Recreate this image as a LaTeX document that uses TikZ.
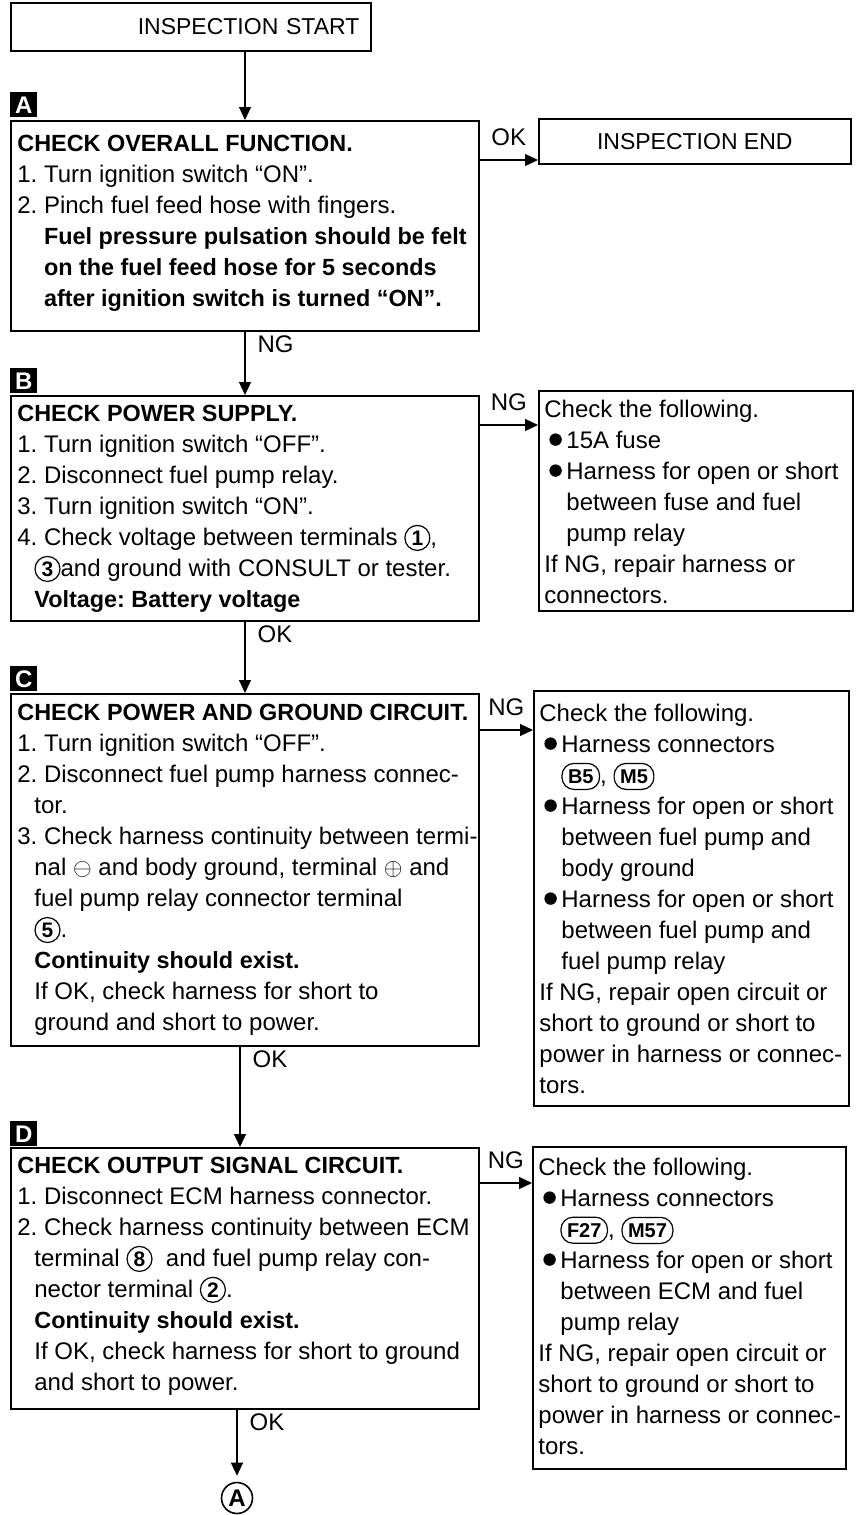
\documentclass[tikz,border=0pt]{standalone}
\usepackage{fontspec}
\setmainfont{Liberation Sans}
\usetikzlibrary{arrows.meta}
\frenchspacing

\newcommand\hb[1]{{\fontsize{11.7}{15.5}\selectfont\bfseries #1}}
\newcommand\cnum[1]{\tikz[baseline=(cn.base)]\node[circle,draw,line width=0.6pt,inner sep=0pt,minimum size=12.5pt,font=\bfseries\fontsize{10.5}{10.5}\selectfont] (cn) {#1};}
\newcommand\conn[1]{\tikz[baseline=(cc.base)]\node[draw,line width=0.6pt,rounded corners=6pt,inner xsep=3pt,inner ysep=0pt,minimum height=13pt,font=\bfseries\fontsize{10}{10}\selectfont] (cc) {#1};}
\newcommand\bul{\makebox[11pt][l]{\hspace{2.5pt}\tikz[baseline={([yshift=-4.3pt]bb.center)}]\node[circle,fill=black,inner sep=0pt,minimum size=6.2pt] (bb) {};}}

\begin{document}
\begin{tikzpicture}[x=0.5pt,y=-0.5pt,boxframe/.style={draw,line width=0.8pt,anchor=north west,inner sep=0pt},flowtxt/.style={anchor=north west,inner sep=0pt,align=left,font=\fontsize{12}{15.5}\selectfont},steplbl/.style={fill=black,text=white,anchor=north west,inner sep=0pt,minimum width=13.5pt,minimum height=12.5pt,font=\bfseries\fontsize{12}{12}\selectfont},arr/.style={-{Triangle[width=6pt,length=6.5pt]},line width=0.6pt},answer/.style={inner sep=2pt,font=\fontsize{12}{12}\selectfont}]
\useasboundingbox (0,0) rectangle (858,1515);
\node[boxframe,minimum width=180pt,minimum height=24pt,text width=180pt,align=left,inner xsep=0pt,font=\fontsize{11.5}{11.5}\selectfont] (start) at (10,2) {\hspace*{63.5pt}INSPECTION START};
\node[boxframe,minimum width=156pt,minimum height=22.5pt,font=\fontsize{11.5}{11.5}\selectfont] (done) at (538,118) {INSPECTION END};
\node[steplbl] (lblA) at (10,92) {A}; \node[steplbl] (lblB) at (10,368) {B}; \node[steplbl] (lblC) at (10,666) {C}; \node[steplbl] (lblD) at (10,1121) {D};
\node[boxframe,minimum width=234pt,minimum height=105pt] (chkA) at (10,120) {};
\node[boxframe,minimum width=234pt,minimum height=112.5pt] (chkB) at (10,395) {};
\node[boxframe,minimum width=234pt,minimum height=176pt] (chkC) at (10,693) {};
\node[boxframe,minimum width=234pt,minimum height=130.5pt] (chkD) at (10,1147) {};
\node[boxframe,minimum width=157pt,minimum height=110pt] (fixB) at (538,390) {};
\node[boxframe,minimum width=157.5pt,minimum height=207.5pt] (fixC) at (533,690) {};
\node[boxframe,minimum width=156.5pt,minimum height=161pt] (fixD) at (532,1146) {};
\node[flowtxt] (txtA) at (17,135) {\hb{CHECK OVERALL FUNCTION.}\\1. Turn ignition switch “ON”.\\2. Pinch fuel feed hose with fingers.\\\hspace*{13.3pt}\hb{Fuel pressure pulsation should be felt}\\\hspace*{13.3pt}\hb{on the fuel feed hose for 5 seconds}\\\hspace*{13.3pt}\hb{after ignition switch is turned “ON”.}};
\node[flowtxt] (txtB) at (17,404.4) {\hb{CHECK POWER SUPPLY.}\\1. Turn ignition switch “OFF”.\\2. Disconnect fuel pump relay.\\3. Turn ignition switch “ON”.\\4. Check voltage between terminals \cnum{1},\\\hspace*{8.5pt}\cnum{3}and ground with CONSULT or tester.\\\hspace*{8.5pt}\hb{Voltage: Battery voltage}};
\node[flowtxt] (txtC) at (17,703.4) {\hb{CHECK POWER AND GROUND CIRCUIT.}\\1. Turn ignition switch “OFF”.\\2. Disconnect fuel pump harness connec-\\\hspace*{8.5pt}tor.\\3. Check harness continuity between termi-\\\hspace*{8.5pt}nal {\fontsize{12}{12}\selectfont$\ominus$} and body ground, terminal {\fontsize{12}{12}\selectfont$\oplus$} and\\\hspace*{8.5pt}fuel pump relay connector terminal\\\hspace*{8.5pt}\cnum{5}.\\\hspace*{8.5pt}\hb{Continuity should exist.}\\\hspace*{8.5pt}If OK, check harness for short to\\\hspace*{8.5pt}ground and short to power.};
\node[flowtxt] (txtD) at (17,1156.4) {\hb{CHECK OUTPUT SIGNAL CIRCUIT.}\\1. Disconnect ECM harness connector.\\2. Check harness continuity between ECM\\\hspace*{8.5pt}terminal \cnum{8}\ \ and fuel pump relay con-\\\hspace*{8.5pt}nector terminal \cnum{2}.\\\hspace*{8.5pt}\hb{Continuity should exist.}\\\hspace*{8.5pt}If OK, check harness for short to ground\\\hspace*{8.5pt}and short to power.};
\node[flowtxt] (noteB) at (544,399.4) {Check the following.\\\bul 15A fuse\\\bul Harness for open or short\\\hspace*{11pt}between fuse and fuel\\\hspace*{11pt}pump relay\\If NG, repair harness or\\connectors.};
\node[flowtxt] (noteC) at (539,703.4) {Check the following.\\\bul Harness connectors\\\hspace*{11pt}\conn{B5}, \conn{M5}\\\bul Harness for open or short\\\hspace*{11pt}between fuel pump and\\\hspace*{11pt}body ground\\\bul Harness for open or short\\\hspace*{11pt}between fuel pump and\\\hspace*{11pt}fuel pump relay\\If NG, repair open circuit or\\short to ground or short to\\power in harness or connec-\\tors.};
\node[flowtxt] (noteD) at (538,1157.4) {Check the following.\\\bul Harness connectors\\\hspace*{11pt}\conn{F27}, \conn{M57}\\\bul Harness for open or short\\\hspace*{11pt}between ECM and fuel\\\hspace*{11pt}pump relay\\If NG, repair open circuit or\\short to ground or short to\\power in harness or connec-\\tors.};
\node[circle,draw,line width=0.8pt,inner sep=0pt,minimum size=15.5pt,font=\bfseries\fontsize{12}{12}\selectfont] (goA) at (237,1498) {A};
\draw[arr] (start.south -| 245,0) -- (chkA.north -| 245,0);
\draw[arr] (chkA.east |- 0,160) -- (done.west |- 0,160) node[answer,midway,anchor=south,yshift=5pt] {OK};
\draw[arr] (chkA.south -| 245,0) -- (chkB.north -| 245,0) node[answer,pos=0,anchor=north west,xshift=4pt] {NG};
\draw[arr] (chkB.east |- 0,425) -- (fixB.west |- 0,425) node[answer,midway,anchor=south,yshift=5pt] {NG};
\draw[arr] (chkB.south -| 245,0) -- (chkC.north -| 245,0) node[answer,pos=0,anchor=north west,xshift=4pt] {OK};
\draw[arr] (chkC.east |- 0,730) -- (fixC.west |- 0,730) node[answer,midway,anchor=south,yshift=5pt] {NG};
\draw[arr] (chkC.south -| 240,0) -- (chkD.north -| 240,0) node[answer,pos=0,anchor=north west,xshift=4pt] {OK};
\draw[arr] (chkD.east |- 0,1183) -- (fixD.west |- 0,1183) node[answer,midway,anchor=south,yshift=5pt] {NG};
\draw[arr,shorten >=3pt] (chkD.south -| 237,0) -- (goA.north) node[answer,pos=0,anchor=north west,xshift=4pt] {OK};
\end{tikzpicture}
\end{document}
